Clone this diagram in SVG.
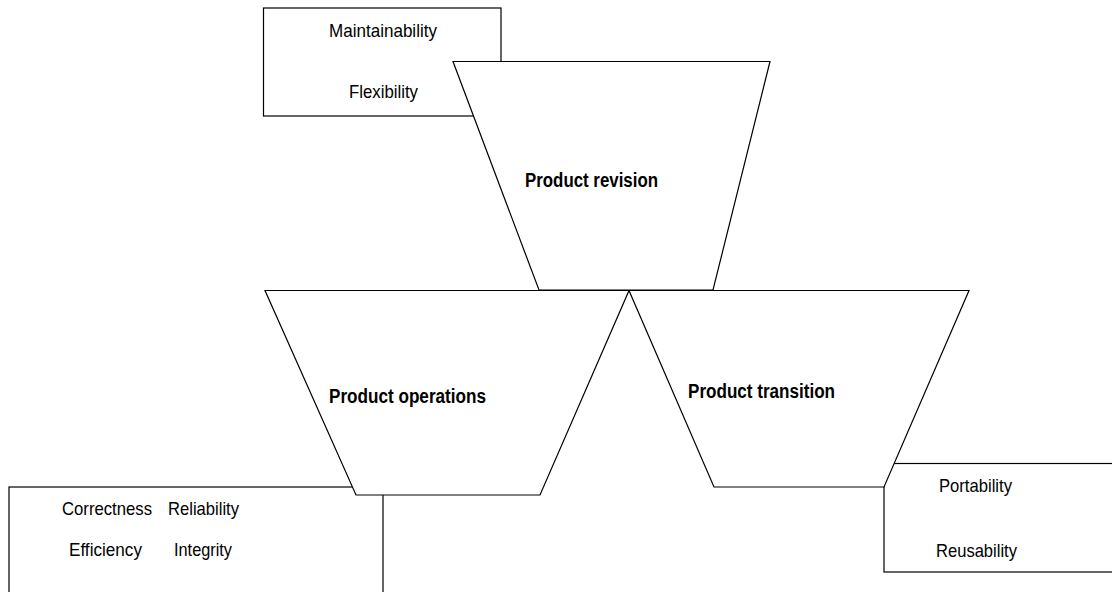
<svg xmlns="http://www.w3.org/2000/svg" width="1112" height="592" viewBox="0 0 1112 592">
  <style>
    .shape { fill: #ffffff; stroke: #000000; stroke-width: 1.2; stroke-linejoin: miter; }
    .lbl { font-family: "Liberation Sans", Arial, sans-serif; font-size: 18.5px; fill: #000000; }
    .title { font-family: "Liberation Sans", Arial, sans-serif; font-size: 20px; font-weight: bold; fill: #000000; }
  </style>
  <rect width="1112" height="592" fill="#ffffff"/>

  <g id="box-revision">
    <rect class="shape" x="263.5" y="8" width="237.5" height="108"/>
    <text class="lbl" x="329" y="36.5" textLength="108" lengthAdjust="spacingAndGlyphs">Maintainability</text>
    <text class="lbl" x="349" y="98" textLength="69" lengthAdjust="spacingAndGlyphs">Flexibility</text>
  </g>

  <g id="box-operations">
    <rect class="shape" x="9" y="487" width="374" height="120"/>
    <text class="lbl" x="62" y="515" textLength="90" lengthAdjust="spacingAndGlyphs">Correctness</text>
    <text class="lbl" x="168" y="515" textLength="71" lengthAdjust="spacingAndGlyphs">Reliability</text>
    <text class="lbl" x="69" y="556" textLength="73" lengthAdjust="spacingAndGlyphs">Efficiency</text>
    <text class="lbl" x="174" y="556" textLength="58" lengthAdjust="spacingAndGlyphs">Integrity</text>
  </g>

  <g id="box-transition">
    <rect class="shape" x="884" y="463.5" width="240" height="108.5"/>
    <text class="lbl" x="939" y="491.5" textLength="73" lengthAdjust="spacingAndGlyphs">Portability</text>
    <text class="lbl" x="936" y="557" textLength="81" lengthAdjust="spacingAndGlyphs">Reusability</text>
  </g>

  <g id="product-revision">
    <polygon class="shape" points="453,61.5 770,61.5 713,290 539,290"/>
    <text class="title" x="525" y="187" textLength="133" lengthAdjust="spacingAndGlyphs">Product revision</text>
  </g>

  <g id="product-operations">
    <polygon class="shape" points="265,290.5 629,290.5 540,495 356,495"/>
    <text class="title" x="329" y="403" textLength="157" lengthAdjust="spacingAndGlyphs">Product operations</text>
  </g>

  <g id="product-transition">
    <polygon class="shape" points="629,290.5 969,290.5 884,487 714,487"/>
    <text class="title" x="688" y="397.5" textLength="147" lengthAdjust="spacingAndGlyphs">Product transition</text>
  </g>

  <g id="connectors"></g>
</svg>
